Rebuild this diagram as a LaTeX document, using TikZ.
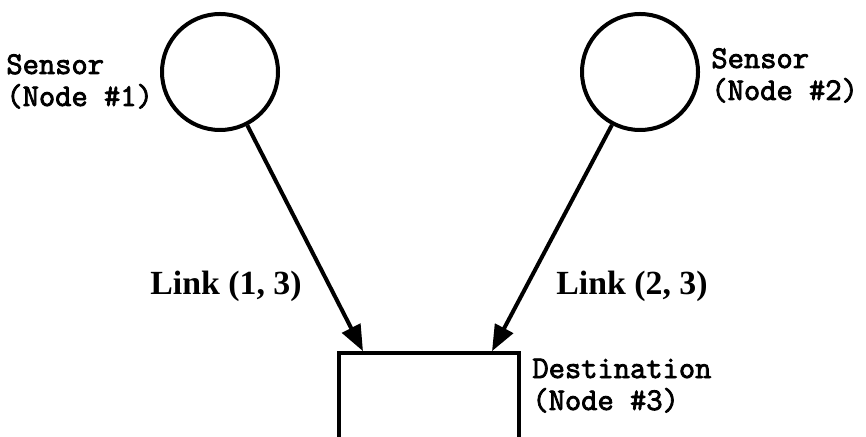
\documentclass[tikz,border=0pt]{standalone}
\usepackage{fontspec}
\setmainfont{Liberation Serif}
\newfontfamily\typefont{Latin Modern Mono}[FakeBold=2.6]
\usetikzlibrary{arrows.meta,calc}
\tikzset{
  sensor/.style={circle, draw, line width=2pt, minimum size=58pt, inner sep=0pt},
  dest/.style={rectangle, draw, line width=1.8pt, minimum width=90pt, minimum height=100pt, inner sep=0pt},
  link/.style={-{Triangle[length=13pt,width=10pt]}, line width=2pt},
  lbl/.style={font=\typefont\fontsize{15.8}{16}\selectfont, align=left, inner sep=0pt, anchor=base west},
  linklbl/.style={font=\rmfamily\bfseries\fontsize{16.9}{20}\selectfont, inner sep=0pt, anchor=base west}
}

\begin{document}
\begin{tikzpicture}[x=0.5pt, y=-0.5pt]
	\clip (0,0) rectangle (866,437);
	% sensors and destination
	\node[sensor] (s1) at (220,72) {};
	\node[sensor] (s2) at (640,72) {};
	\node[dest] (d3) at (429,453) {};
	\coordinate (in1) at ($(d3.north)+(-66,0)$);
	\coordinate (in2) at ($(d3.north)+(63,0)$);
	% links
	\draw[link] (s1) -- (in1);
	\draw[link] (s2) -- (in2);
	% labels
	\node[lbl] (t1) at (6,106) {Sensor\\(Node \#1)};
	\node[lbl] (t2) at (711,100) {Sensor\\(Node \#2)};
	\node[lbl] (t3) at (532,410) {Destination\\(Node \#3)};
	\node[linklbl] (l13) at (150,295) {Link (1, 3)};
	\node[linklbl] (l23) at (556,295) {Link (2, 3)};
\end{tikzpicture}
\end{document}
